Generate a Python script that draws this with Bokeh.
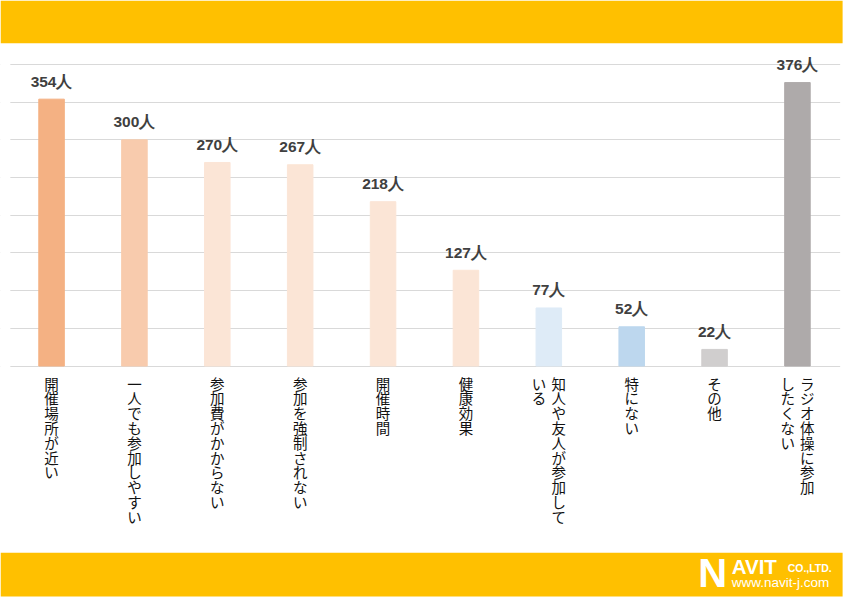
from bokeh.plotting import figure
from bokeh.models import Range1d, FixedTicker, BoxAnnotation, ColumnDataSource
from bokeh.core.properties import value
from bokeh.embed import file_html
from bokeh.resources import INLINE

# ---------------- data ----------------
categories = [
    "開催場所が近い",
    "一人でも参加しやすい",
    "参加費がかからない",
    "参加を強制されない",
    "開催時間",
    "健康効果",
    "知人や友人が参加して|いる",
    "特にない",
    "その他",
    "ラジオ体操に参加|したくない",
]
counts = [354, 300, 270, 267, 218, 127, 77, 52, 22, 376]
bar_colors = ["#F4B183", "#F8CBAD", "#FBE5D6", "#FBE5D6", "#FBE5D6",
              "#FBE5D6", "#DEEBF7", "#BDD7EE", "#D0CECE", "#AEAAAA"]
y_ticks = [0, 50, 100, 150, 200, 250, 300, 350, 400]
unit = "人"

# ---------------- layout constants (reference pixels, 864x613) ----------------
W, H = 848, 597
REF_W, REF_H = 864, 613
X0, STEP = 9.8, 84.44        # left edge of first category, category width
BASE, SCALE = 375.3, 0.774   # y of value 0, px per unit

def dx(px):
    return (px - X0) / STEP

def dy(py):
    return (BASE - py) / SCALE

p = figure(width=W, height=H, output_backend="svg", toolbar_location=None,
           x_range=Range1d(dx(0), dx(REF_W)),
           y_range=Range1d(dy(REF_H), dy(0)),
           min_border=0, outline_line_color=None, tools="")
p.axis.visible = False
p.xgrid.visible = False
p.ygrid.ticker = FixedTicker(ticks=y_ticks)
p.ygrid.grid_line_color = "#D9D9D9"
p.ygrid.grid_line_width = 1
p.background_fill_color = "white"
p.border_fill_color = "white"

# yellow bands (drawn beneath glyphs)
p.add_layout(BoxAnnotation(bottom=dy(44), right=dx(858), fill_color="#FFC000", fill_alpha=1,
                           line_color=None, level="underlay"))
p.add_layout(BoxAnnotation(top=dy(567), bottom=dy(612), right=dx(858), fill_color="#FFC000",
                           fill_alpha=1, line_color=None, level="underlay"))
# white margins that trim the gridlines at both sides
p.add_layout(BoxAnnotation(right=dx(10), top=dy(50), bottom=dy(560), fill_color="white",
                           fill_alpha=1, line_color=None))
p.add_layout(BoxAnnotation(left=dx(855.5), top=dy(50), bottom=dy(560), fill_color="white",
                           fill_alpha=1, line_color=None))

xs = [i + 0.5 for i in range(len(categories))]
src = ColumnDataSource(dict(x=xs, top=counts, color=bar_colors,
                            lab=[f"{c}{unit}" for c in counts]))
p.vbar(x="x", top="top", bottom=0, width=0.308, color="color", source=src)

p.text(x="x", y="top", text="lab", source=src, y_offset=-18,
       text_align="center", text_baseline="alphabetic",
       text_font=value("Liberation Sans"), text_font_style="bold",
       text_font_size="15.5px", text_color="#404040")

# vertical category labels (columns run right to left)
COLGAP = 20
lx, ly, lt = [], [], []
for i, cat in enumerate(categories):
    cols = cat.split("|")
    n = len(cols)
    for j, col in enumerate(cols):
        off_px = (n - 1) * COLGAP / 2 - j * COLGAP
        lx.append(xs[i] + off_px / STEP)
        ly.append(dy(382))
        lt.append("\n".join(col))
p.text(x=lx, y=ly, text=lt, text_align="center", text_baseline="top",
       text_font=value("Noto Sans CJK JP"), text_font_size="14.5px",
       text_line_height=0.705, text_color="#111111")

# logo
p.text(x=[dx(711)], y=[dy(588)], text=["N"], text_align="left", text_baseline="alphabetic",
       text_font=value("Liberation Sans"), text_font_style="bold",
       text_font_size="40px", text_color="white")
p.text(x=[dx(745)], y=[dy(581)], text=["AVIT"], text_align="left", text_baseline="alphabetic",
       text_font=value("Liberation Sans"), text_font_style="bold",
       text_font_size="20.5px", text_color="white")
p.text(x=[dx(802)], y=[dy(583)], text=["CO.,LTD."], text_align="left", text_baseline="alphabetic",
       text_font=value("Liberation Sans"), text_font_style="bold",
       text_font_size="10.5px", text_color="white")
p.text(x=[dx(745)], y=[dy(598)], text=["www.navit-j.com"], text_align="left",
       text_baseline="alphabetic", text_font=value("Liberation Sans"),
       text_font_size="13.5px", text_color="white")

open("out.html", "w").write(file_html(p, INLINE))
